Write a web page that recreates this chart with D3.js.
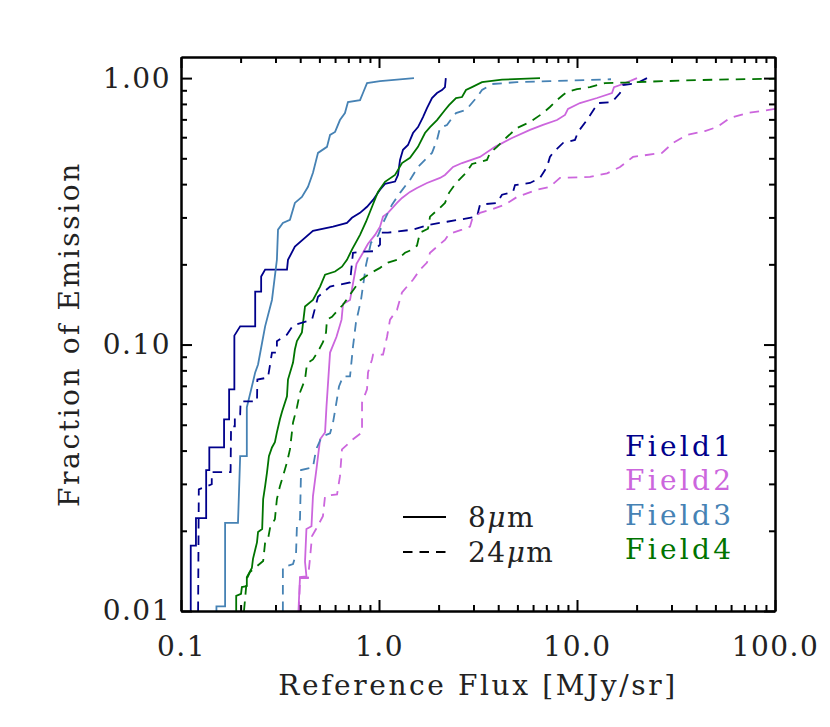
<!DOCTYPE html>
<html>
<head>
<meta charset="utf-8">
<script src="https://cdn.jsdelivr.net/npm/d3@7"></script>
<style>
  body { margin: 0; background: #fff; }
  svg text { font-family: "DejaVu Serif", serif; }
</style>
</head>
<body>
<div class="container"></div>
<script>
// chart size + plot box
var width  = 830;
var height = 727;
var left = 181, right = 775, top_ = 57, bottom = 611;

// axis ticks
var xMajor = [0.1, 1, 10, 100];
var xLabels = ["0.1", "1.0", "10.0", "100.0"];
var yMajor = [0.01, 0.1, 1];
var yLabels = ["0.01", "0.10", "1.00"];

// cumulative curves, [flux, fraction]
var field1_8um = [[0.112,0.0100],[0.112,0.0176],[0.119,0.0176],[0.119,0.0223],[0.134,0.0223],[0.134,0.0338],
  [0.139,0.0338],[0.139,0.0411],[0.165,0.0411],[0.165,0.0524],[0.175,0.0524],[0.175,0.0679],[0.186,0.0679],
  [0.186,0.108],[0.199,0.117],[0.237,0.117],[0.237,0.158],[0.254,0.158],[0.254,0.180],[0.266,0.191],
  [0.343,0.191],[0.347,0.208],[0.376,0.233],[0.464,0.267],[0.586,0.277],[0.689,0.286],[0.730,0.299],
  [0.802,0.312],[0.870,0.329],[0.933,0.349],[1.012,0.381],[1.072,0.401],[1.205,0.409],[1.247,0.433],
  [1.277,0.493],[1.322,0.538],[1.401,0.561],[1.485,0.622],[1.574,0.655],[1.668,0.714],[1.747,0.772],
  [1.852,0.842],[1.963,0.879],[2.080,0.902],[2.154,0.925],[2.175,1.0]];

var field3_8um = [[0.151,0.0100],[0.151,0.0104],[0.167,0.0104],[0.167,0.0214],[0.194,0.0214],[0.199,0.0381],
  [0.215,0.0381],[0.215,0.0581],[0.228,0.0696],[0.237,0.0786],[0.245,0.0842],[0.257,0.102],[0.266,0.117],
  [0.288,0.147],[0.305,0.208],[0.309,0.270],[0.327,0.286],[0.355,0.294],[0.376,0.340],[0.408,0.358],
  [0.438,0.391],[0.464,0.441],[0.492,0.524],[0.546,0.552],[0.566,0.612],[0.600,0.628],[0.635,0.696],
  [0.673,0.739],[0.697,0.813],[0.802,0.827],[0.830,0.879],[0.870,0.958],[1.012,0.974],[1.502,1.0]];

var field4_8um = [[0.190,0.0100],[0.190,0.0114],[0.201,0.0116],[0.203,0.0123],[0.215,0.0124],[0.215,0.0134],
  [0.228,0.0145],[0.231,0.0157],[0.242,0.0181],[0.245,0.0198],[0.257,0.0203],[0.260,0.0263],[0.266,0.0294],
  [0.272,0.0332],[0.278,0.0381],[0.288,0.0411],[0.298,0.0430],[0.305,0.0468],[0.316,0.0524],[0.324,0.0561],
  [0.343,0.0639],[0.347,0.0739],[0.368,0.0856],[0.376,0.0958],[0.385,0.103],[0.408,0.111],[0.423,0.139],
  [0.464,0.147],[0.504,0.165],[0.534,0.183],[0.600,0.188],[0.650,0.196],[0.689,0.208],[0.730,0.227],
  [0.802,0.258],[0.860,0.289],[0.922,0.329],[0.988,0.374],[1.072,0.408],[1.205,0.433],[1.307,0.480],
  [1.434,0.502],[1.574,0.552],[1.707,0.622],[1.810,0.655],[1.963,0.696],[2.154,0.759],[2.257,0.792],
  [2.448,0.842],[2.626,0.849],[2.750,0.902],[2.949,0.925],[3.313,0.966],[4.180,0.987],[6.503,1.0]];

var field2_8um = [[0.392,0.0100],[0.399,0.0134],[0.430,0.0135],[0.423,0.0153],[0.430,0.0203],[0.456,0.0208],
  [0.464,0.0270],[0.483,0.0340],[0.504,0.0441],[0.534,0.0468],[0.543,0.0586],[0.566,0.0933],[0.610,0.107],
  [0.647,0.124],[0.658,0.142],[0.714,0.147],[0.770,0.201],[0.830,0.221],[0.880,0.239],[0.955,0.258],
  [1.012,0.277],[1.048,0.302],[1.110,0.312],[1.233,0.340],[1.307,0.355],[1.434,0.374],[1.555,0.387],
  [1.747,0.404],[2.033,0.422],[2.154,0.433],[2.365,0.464],[2.626,0.480],[3.236,0.506],[3.854,0.552],
  [4.696,0.596],[5.789,0.639],[6.734,0.667],[7.925,0.696],[8.70,0.727],[9.006,0.766],[10.35,0.806],
  [12.62,0.842],[15.02,0.879],[15.38,0.925],[17.07,0.950],[20.09,1.0]];

var field1_24um = [[0.122,0.0100],[0.123,0.0286],[0.143,0.0299],[0.143,0.0332],[0.178,0.0332],[0.179,0.0493],
  [0.187,0.0493],[0.187,0.0538],[0.199,0.0547],[0.200,0.0612],[0.242,0.0612],[0.243,0.0739],[0.275,0.0752],
  [0.288,0.0933],[0.305,0.0933],[0.305,0.103],[0.343,0.109],[0.368,0.118],[0.459,0.124],[0.492,0.151],
  [0.566,0.165],[0.714,0.171],[0.739,0.221],[0.830,0.223],[0.933,0.224],[1.012,0.237],[1.012,0.263],
  [1.110,0.263],[1.485,0.270],[1.810,0.282],[2.204,0.289],[3.126,0.302],[3.236,0.335],[3.945,0.340],
  [4.180,0.365],[4.751,0.374],[4.863,0.397],[5.789,0.404],[6.503,0.422],[7.055,0.464],[7.30,0.506],
  [7.56,0.524],[8.50,0.571],[9.77,0.586],[10.12,0.628],[11.23,0.696],[12.77,0.806],[15.02,0.813],
  [16.49,0.879],[17.07,0.942],[20.09,0.958],[22.57,1.0]];

var field3_24um = [[0.327,0.0100],[0.327,0.0146],[0.368,0.0150],[0.381,0.0164],[0.385,0.0208],[0.399,0.0221],
  [0.404,0.0338],[0.464,0.0346],[0.481,0.0404],[0.515,0.0452],[0.566,0.0464],[0.586,0.0510],[0.606,0.0591],
  [0.628,0.0696],[0.658,0.0759],[0.714,0.0759],[0.739,0.0983],[0.765,0.121],[0.811,0.147],[0.860,0.199],
  [0.911,0.241],[0.988,0.256],[1.048,0.286],[1.163,0.335],[1.277,0.371],[1.434,0.415],[1.574,0.464],
  [1.707,0.493],[1.852,0.524],[1.963,0.586],[2.033,0.650],[2.204,0.667],[2.337,0.708],[2.448,0.739],
  [2.750,0.759],[3.126,0.849],[3.313,0.902],[3.721,0.950],[4.977,0.966],[7.30,0.974],[14.85,0.99]];

var field4_24um = [[0.208,0.0100],[0.210,0.0108],[0.215,0.0132],[0.223,0.0140],[0.260,0.0154],[0.266,0.0181],
  [0.275,0.0186],[0.282,0.0206],[0.298,0.0221],[0.305,0.0263],[0.316,0.0294],[0.327,0.0320],[0.343,0.0361],
  [0.355,0.0404],[0.368,0.0510],[0.385,0.0581],[0.399,0.0661],[0.423,0.0739],[0.433,0.0849],[0.464,0.0879],
  [0.492,0.0942],[0.521,0.102],[0.540,0.111],[0.546,0.124],[0.579,0.127],[0.621,0.135],[0.658,0.141],
  [0.714,0.154],[0.802,0.174],[0.901,0.185],[1.012,0.194],[1.110,0.203],[1.233,0.208],[1.353,0.221],
  [1.468,0.227],[1.555,0.235],[1.611,0.263],[1.768,0.272],[1.810,0.302],[2.033,0.326],[2.154,0.340],
  [2.257,0.371],[2.448,0.404],[2.750,0.441],[2.949,0.476],[3.511,0.493],[3.636,0.524],[3.945,0.552],
  [4.43,0.601],[4.977,0.650],[5.789,0.684],[6.734,0.739],[7.30,0.779],[7.925,0.827],[8.50,0.864],
  [8.90,0.886],[10.0,0.909],[11.63,0.925],[13.85,0.958],[17.47,0.962],[23.37,0.970],[34.31,0.979],
  [50.93,0.987],[70.55,0.991],[100,0.995]];

var field2_24um = [[0.394,0.0100],[0.399,0.0133],[0.438,0.0133],[0.448,0.0157],[0.459,0.0191],[0.481,0.0203],
  [0.521,0.0227],[0.534,0.0270],[0.614,0.0274],[0.635,0.0320],[0.650,0.0404],[0.739,0.0441],[0.821,0.0468],
  [0.821,0.0606],[0.870,0.0679],[0.880,0.0786],[0.922,0.0879],[0.933,0.0917],[1.048,0.0917],[1.098,0.107],
  [1.137,0.124],[1.233,0.135],[1.307,0.157],[1.385,0.165],[1.485,0.175],[1.611,0.191],[1.747,0.203],
  [1.810,0.221],[1.963,0.233],[2.154,0.247],[2.257,0.260],[2.626,0.270],[2.881,0.277],[2.949,0.294],
  [3.236,0.312],[3.636,0.320],[4.329,0.335],[4.977,0.358],[6.28,0.381],[7.30,0.391],[8.205,0.422],
  [11.63,0.426],[14.18,0.439],[16.49,0.464],[19.17,0.506],[26.87,0.524],[30.54,0.571],[35.93,0.612],
  [44.3,0.633],[50.93,0.655],[59.25,0.708],[72.2,0.739],[100,0.766]];

var fieldNames  = ["Field1", "Field2", "Field3", "Field4"];
var fieldColors = ["#00008b", "#cc66dd", "#4682b4", "#007400"];

var curves = [
  {data: field1_8um,  color: fieldColors[0], dash: null},
  {data: field2_8um,  color: fieldColors[1], dash: null},
  {data: field3_8um,  color: fieldColors[2], dash: null},
  {data: field4_8um,  color: fieldColors[3], dash: null},
  {data: field1_24um, color: fieldColors[0], dash: "9.5,7"},
  {data: field2_24um, color: fieldColors[1], dash: "9.5,7"},
  {data: field3_24um, color: fieldColors[2], dash: "9.5,7"},
  {data: field4_24um, color: fieldColors[3], dash: "9.5,7"}
];

var svg = d3.select(".container").append("svg")
  .attr("width", width)
  .attr("height", height);

var x = d3.scaleLog().domain([0.1, 100]).range([left, right]);
var y = d3.scaleLog().domain([0.01, 1.2]).range([bottom, top_]);

// minor ticks 2..9 in each decade
var xMinor = [], yMinor = [];
[0.1, 1, 10].forEach(function(d) { for (var k = 2; k <= 9; k++) xMinor.push(d * k); });
[0.01, 0.1].forEach(function(d) { for (var k = 2; k <= 9; k++) yMinor.push(d * k); });

svg.append("clipPath").attr("id", "plotClip")
  .append("rect").attr("x", left).attr("y", top_).attr("width", right - left).attr("height", bottom - top_);

var line = d3.line().x(function(d) { return x(d[0]); }).y(function(d) { return y(d[1]); });

svg.append("g").attr("clip-path", "url(#plotClip)")
  .selectAll("path")
  .data(curves)
  .enter().append("path")
  .attr("d", function(c) { return line(c.data); })
  .attr("fill", "none")
  .attr("stroke", function(c) { return c.color; })
  .attr("stroke-width", 1.8)
  .attr("stroke-dasharray", function(c) { return c.dash; });

// axes: majors with labels, minors without
function styleAxis(g) {
  g.selectAll(".domain").attr("stroke", "#000").attr("stroke-width", 2);
  g.selectAll(".tick line").attr("stroke", "#000").attr("stroke-width", 2);
  g.selectAll("text").attr("font-family", "DejaVu Serif").attr("font-size", 28)
    .attr("letter-spacing", 1.5).attr("fill", "#222");
}

svg.append("g").attr("transform", "translate(0," + bottom + ")")
  .call(d3.axisBottom(x).tickValues(xMajor).tickSize(-11).tickSizeOuter(0).tickPadding(25)
    .tickFormat(function(d, i) { return xLabels[i]; }))
  .call(styleAxis);
svg.append("g").attr("transform", "translate(0," + bottom + ")")
  .call(d3.axisBottom(x).tickValues(xMinor).tickSize(-6).tickSizeOuter(0).tickFormat(""))
  .call(styleAxis);
svg.append("g").attr("transform", "translate(0," + top_ + ")")
  .call(d3.axisTop(x).tickValues(xMajor).tickSize(-11).tickSizeOuter(0).tickFormat(""))
  .call(styleAxis);
svg.append("g").attr("transform", "translate(0," + top_ + ")")
  .call(d3.axisTop(x).tickValues(xMinor).tickSize(-6).tickSizeOuter(0).tickFormat(""))
  .call(styleAxis);

svg.append("g").attr("transform", "translate(" + left + ",0)")
  .call(d3.axisLeft(y).tickValues(yMajor).tickSize(-11).tickSizeOuter(0).tickPadding(10)
    .tickFormat(function(d, i) { return yLabels[i]; }))
  .call(styleAxis);
svg.append("g").attr("transform", "translate(" + left + ",0)")
  .call(d3.axisLeft(y).tickValues(yMinor).tickSize(-6).tickSizeOuter(0).tickFormat(""))
  .call(styleAxis);
svg.append("g").attr("transform", "translate(" + right + ",0)")
  .call(d3.axisRight(y).tickValues(yMajor).tickSize(-11).tickSizeOuter(0).tickFormat(""))
  .call(styleAxis);
svg.append("g").attr("transform", "translate(" + right + ",0)")
  .call(d3.axisRight(y).tickValues(yMinor).tickSize(-6).tickSizeOuter(0).tickFormat(""))
  .call(styleAxis);

// axis titles
svg.append("text")
  .attr("x", (left + right) / 2).attr("y", 695)
  .attr("text-anchor", "middle").attr("font-size", 28).attr("letter-spacing", 2.6).attr("fill", "#222")
  .text("Reference Flux [MJy/sr]");

svg.append("text")
  .attr("transform", "translate(79," + ((top_ + bottom) / 2) + ") rotate(-90)")
  .attr("text-anchor", "middle").attr("font-size", 28).attr("letter-spacing", 2.6).attr("fill", "#222")
  .text("Fraction of Emission");

// legend: line styles
var styleLegend = [{label: "8", dash: null, y: 517}, {label: "24", dash: "9.5,7", y: 552}];
styleLegend.forEach(function(s) {
  svg.append("line")
    .attr("x1", 403).attr("x2", 446).attr("y1", s.y).attr("y2", s.y)
    .attr("stroke", "#000").attr("stroke-width", 1.8)
    .attr("stroke-dasharray", s.dash);
  var t = svg.append("text").attr("x", 468).attr("y", s.y + 10)
    .attr("font-size", 28).attr("letter-spacing", 1.5).attr("fill", "#222");
  t.append("tspan").text(s.label);
  t.append("tspan").attr("font-style", "italic").text("\u03bc");
  t.append("tspan").text("m");
});

// legend: field colours
svg.selectAll(".fieldLabel")
  .data(fieldNames)
  .enter().append("text")
  .attr("class", "fieldLabel")
  .attr("x", 625)
  .attr("y", function(d, i) { return 456 + i * 34.3; })
  .attr("font-size", 28)
  .attr("letter-spacing", 3.3)
  .attr("fill", function(d, i) { return fieldColors[i]; })
  .text(function(d) { return d; });
</script>
</body>
</html>
